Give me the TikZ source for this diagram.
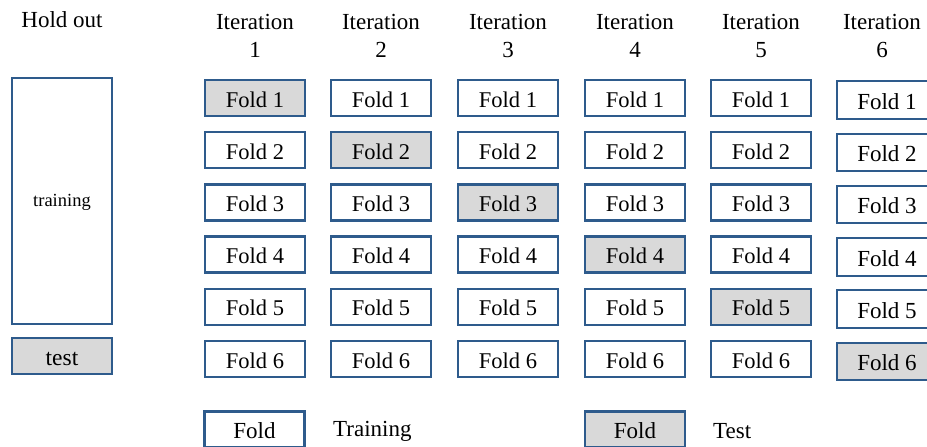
\documentclass[tikz,border=0pt]{standalone}
\usepackage{fontspec}
\setmainfont{Liberation Serif}
\definecolor{boxblue}{HTML}{2E5B8C}
\definecolor{boxgray}{HTML}{D9D9D9}
\begin{document}
\begin{tikzpicture}[x=1pt,y=-1pt,
  foldbox/.style={draw=boxblue,line width=2.3pt,fill=white,minimum width=100pt,minimum height=36pt,inner sep=0pt,text height=18pt,text depth=0pt,font=\fontsize{22.5}{24}\selectfont},
  foldbig/.style={foldbox,minimum height=37.5pt,font=\fontsize{23}{24}\selectfont},
  testfold/.style={fill=boxgray},
  head/.style={align=center,inner sep=0pt,font=\fontsize{23}{28}\selectfont},
  lbl/.style={inner sep=0pt,font=\fontsize{23}{24}\selectfont}]
\useasboundingbox (0,0) rectangle (927,447);
% Hold out column
\node[head] (hold) at (62,20) {Hold out};
\node[draw=boxblue,line width=2.3pt,minimum width=100pt,minimum height=246pt,inner sep=0pt] (train) at (62,201) {};
\node[inner sep=0pt,font=\fontsize{18.5}{20}\selectfont] (trainlbl) at (62,202) {training};
\node[foldbox,testfold,font=\fontsize{23.5}{24}\selectfont] (test) at (62,356) {test};
% Headers
\foreach \i/\x in {1/255,2/381,3/508,4/635,5/761,6/882}{
  \node[head] (h\i) at (\x,36) {Iteration\\\i};
}
% Folds, iterations 1-5
\foreach \i/\x in {1/255,2/381,3/508,4/635,5/761}{
  \foreach \j/\y in {1/98,2/150.2,3/202.4,4/254.6,5/306.8,6/359}{
    \ifnum\i=\j
      \node[foldbox,testfold] (f\i\j) at (\x,\y) {Fold \j};
    \else
      \node[foldbox] (f\i\j) at (\x,\y) {Fold \j};
    \fi
  }
}
% Iteration 6
\foreach \j/\y in {1/100,2/152.5,3/204.5,4/257,5/309,6/361.5}{
  \ifnum\j=6
    \node[foldbig,testfold] (f6\j) at (887,\y) {Fold \j};
  \else
    \node[foldbig] (f6\j) at (887,\y) {Fold \j};
  \fi
}
% Legend
\node[foldbox,font=\fontsize{23}{24}\selectfont] (legtrain) at (254.5,429.5) {Fold};
\node[lbl,anchor=west] (legtraintxt) at (333,431) {Training};
\node[foldbox,testfold,font=\fontsize{23}{24}\selectfont] (legtest) at (635,429.5) {Fold};
\node[lbl,anchor=west] (legtesttxt) at (713,431) {Test};
\end{tikzpicture}
\end{document}
